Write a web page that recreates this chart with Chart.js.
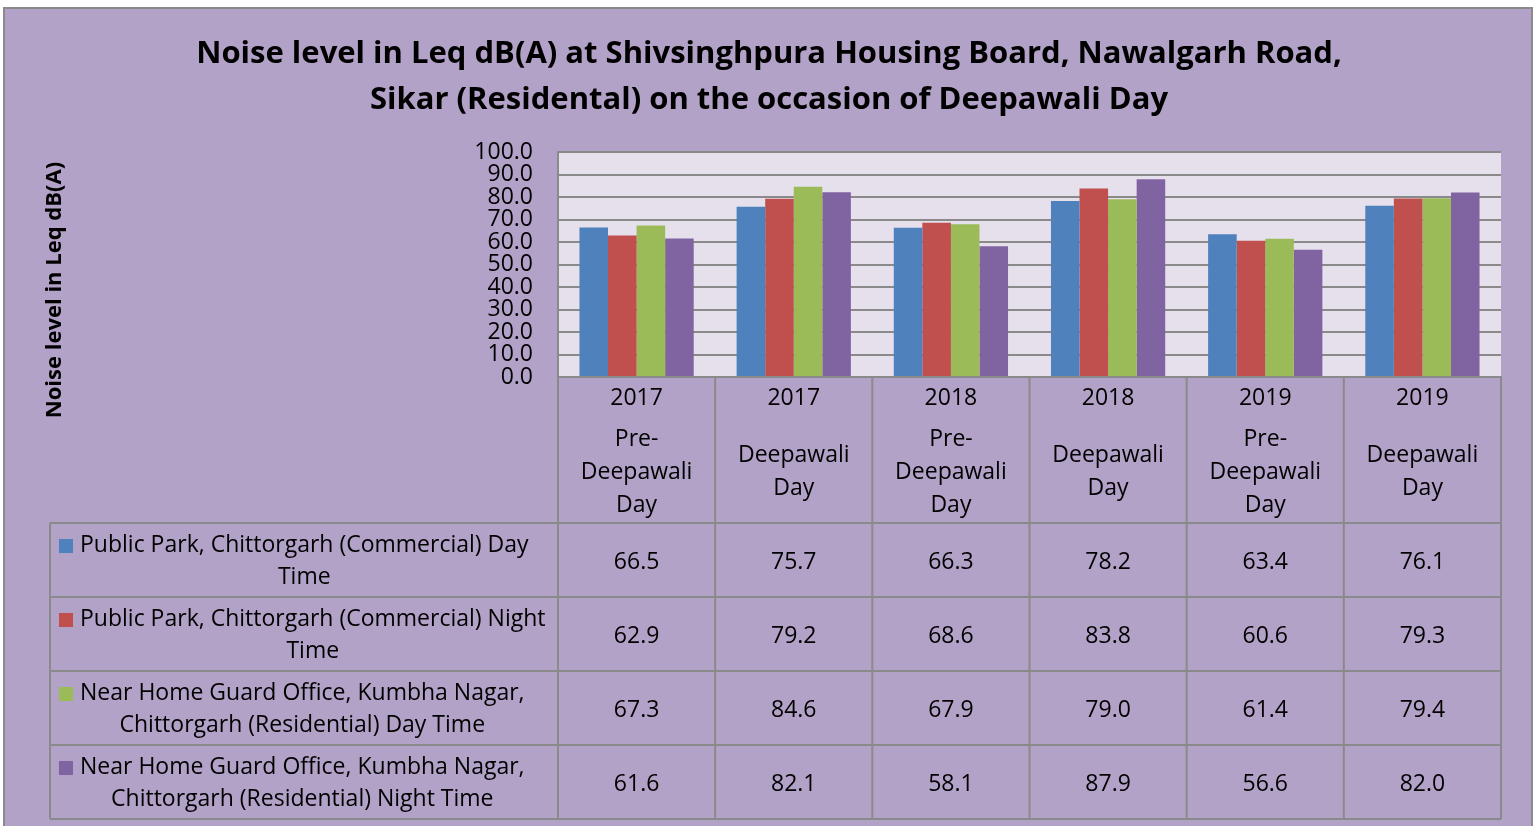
<!DOCTYPE html>
<html>
<head>
<meta charset="utf-8">
<script src="https://cdn.jsdelivr.net/npm/chart.js@4.4.1/dist/chart.umd.min.js"></script>
<style>
  html, body { margin: 0; padding: 0; background: #ffffff; overflow: hidden; }
  #frame {
    position: absolute; left: 3px; top: 7px; width: 1526px; height: 830px;
    background: #B3A2C7; border: 2px solid #8a8a8a;
  }
  #wrap { position: absolute; left: 0; top: 0; width: 1538px; height: 826px; }
</style>
</head>
<body>
<div id="frame"></div>
<div id="wrap"><canvas id="plot"></canvas></div>
<script>
// data
const years = ['2017', '2017', '2018', '2018', '2019', '2019']
const periods = [
  ['Pre-', 'Deepawali', 'Day'],
  ['Deepawali', 'Day'],
  ['Pre-', 'Deepawali', 'Day'],
  ['Deepawali', 'Day'],
  ['Pre-', 'Deepawali', 'Day'],
  ['Deepawali', 'Day']
]
const seriesLines = [
  ['Public Park, Chittorgarh (Commercial) Day', 'Time'],
  ['Public Park, Chittorgarh (Commercial) Night', 'Time'],
  ['Near Home Guard Office, Kumbha Nagar,', 'Chittorgarh (Residential) Day Time'],
  ['Near Home Guard Office, Kumbha Nagar,', 'Chittorgarh (Residential) Night Time']
]
const parkDay = [66.5, 75.7, 66.3, 78.2, 63.4, 76.1]
const parkNight = [62.9, 79.2, 68.6, 83.8, 60.6, 79.3]
const guardDay = [67.3, 84.6, 67.9, 79.0, 61.4, 79.4]
const guardNight = [61.6, 82.1, 58.1, 87.9, 56.6, 82.0]
const colours = ['#4F81BD', '#C0504D', '#9BBB59', '#8064A2']

const titleLines = [
  'Noise level in Leq dB(A) at Shivsinghpura Housing Board, Nawalgarh Road,',
  'Sikar (Residental) on the occasion of Deepawali Day'
]
const yTitle = 'Noise level in Leq dB(A)'

// look
const gridColour = '#8a8a8a'
const fontFamily = "'Open Sans', sans-serif"
const cellFont = '23px ' + fontFamily

Chart.defaults.font.family = fontFamily
Chart.defaults.color = '#000000'

// plot background + the data table under the axis
const tablePlugin = {
  id: 'dataTable',
  beforeDraw(chart) {
    const {ctx, chartArea: a} = chart
    ctx.save()
    ctx.fillStyle = '#E6E0EC'
    ctx.fillRect(a.left, a.top, a.right - a.left, a.bottom - a.top)
    ctx.restore()
  },
  afterDraw(chart) {
    const {ctx, chartArea: a, scales} = chart
    const x = scales.x
    const n = chart.data.labels.length
    const colW = (a.right - a.left) / n
    const headBottom = a.bottom + 146
    const rowH = 74
    const tableLeft = 50
    const rows = chart.data.datasets.length
    const tableBottom = headBottom + rows * rowH

    ctx.save()
    ctx.strokeStyle = gridColour
    ctx.lineWidth = 2
    ctx.beginPath()
    for (let i = 0; i <= n; i++) {
      const xx = a.left + i * colW
      ctx.moveTo(xx, a.bottom)
      ctx.lineTo(xx, tableBottom)
    }
    ctx.moveTo(tableLeft, headBottom)
    ctx.lineTo(tableLeft, tableBottom)
    for (let r = 0; r <= rows; r++) {
      const yy = headBottom + r * rowH
      ctx.moveTo(tableLeft, yy)
      ctx.lineTo(a.right, yy)
    }
    ctx.stroke()

    // category header cells
    ctx.fillStyle = '#000'
    ctx.font = cellFont
    ctx.textAlign = 'center'
    ctx.textBaseline = 'middle'
    chart.data.labels.forEach((lab, i) => {
      const cx = x.getPixelForValue(i)
      ctx.fillText(lab[0], cx, a.bottom + 21)
      const sub = lab.slice(1)
      const mid = a.bottom + 95
      sub.forEach((s, k) => {
        ctx.fillText(s, cx, mid + (k - (sub.length - 1) / 2) * 33)
      })
    })

    // rows: legend key + name, then values
    chart.data.datasets.forEach((ds, r) => {
      const top = headBottom + r * rowH
      const cy = top + rowH / 2
      ds.data.forEach((v, i) => {
        ctx.textAlign = 'center'
        ctx.fillText(v.toFixed(1), x.getPixelForValue(i), cy + 2)
      })
      const lines = seriesLines[r]
      ctx.fillStyle = ds.backgroundColor
      ctx.fillRect(59, top + 16, 14, 14)
      ctx.fillStyle = '#000'
      ctx.textAlign = 'left'
      ctx.fillText(lines[0], 80, top + 22)
      const w = ctx.measureText(lines[0]).width
      ctx.textAlign = 'center'
      for (let k = 1; k < lines.length; k++) {
        ctx.fillText(lines[k], 80 + w / 2, top + 22 + k * 32)
      }
    })

    // y axis title
    ctx.translate(55, 290)
    ctx.rotate(-Math.PI / 2)
    ctx.font = 'bold 22px ' + fontFamily
    ctx.textAlign = 'center'
    ctx.fillText(yTitle, 0, 0)
    ctx.restore()
  }
}

function makeSet(label, data, colour) {
  return {
    label: label,
    data: data,
    backgroundColor: colour,
    borderWidth: 0,
    categoryPercentage: 0.727,
    barPercentage: 1.0
  }
}

const chart = new Chart(document.getElementById('plot'), {
  type: 'bar',
  data: {
    labels: years.map((y, i) => [y].concat(periods[i])),
    datasets: [
      makeSet(seriesLines[0].join(' '), parkDay, colours[0]),
      makeSet(seriesLines[1].join(' '), parkNight, colours[1]),
      makeSet(seriesLines[2].join(' '), guardDay, colours[2]),
      makeSet(seriesLines[3].join(' '), guardNight, colours[3])
    ]
  },
  options: {
    responsive: true,
    maintainAspectRatio: false,
    animation: false,
    events: [],
    layout: { padding: { left: 37, right: 37, top: 0, bottom: 6 } },
    plugins: {
      legend: { display: false },
      tooltip: { enabled: false },
      title: {
        display: true,
        text: titleLines,
        color: '#000',
        font: { size: 31, weight: 'bold', lineHeight: 46 / 31 },
        padding: { top: 31, bottom: 29 }
      }
    },
    scales: {
      x: {
        grid: { display: false },
        border: { display: true, color: gridColour, width: 2 },
        ticks: { display: false },
        afterFit(scale) { scale.height = 443 }
      },
      y: {
        min: 0,
        max: 100,
        grid: { color: gridColour, lineWidth: 2, drawTicks: false },
        border: { display: true, color: gridColour, width: 2 },
        ticks: {
          stepSize: 10,
          autoSkip: false,
          padding: 25,
          font: { size: 23, lineHeight: 1 },
          color: '#000',
          callback: v => v.toFixed(1)
        },
        afterFit(scale) { scale.width = 521 }
      }
    }
  },
  plugins: [tablePlugin]
})
</script>
</body>
</html>
